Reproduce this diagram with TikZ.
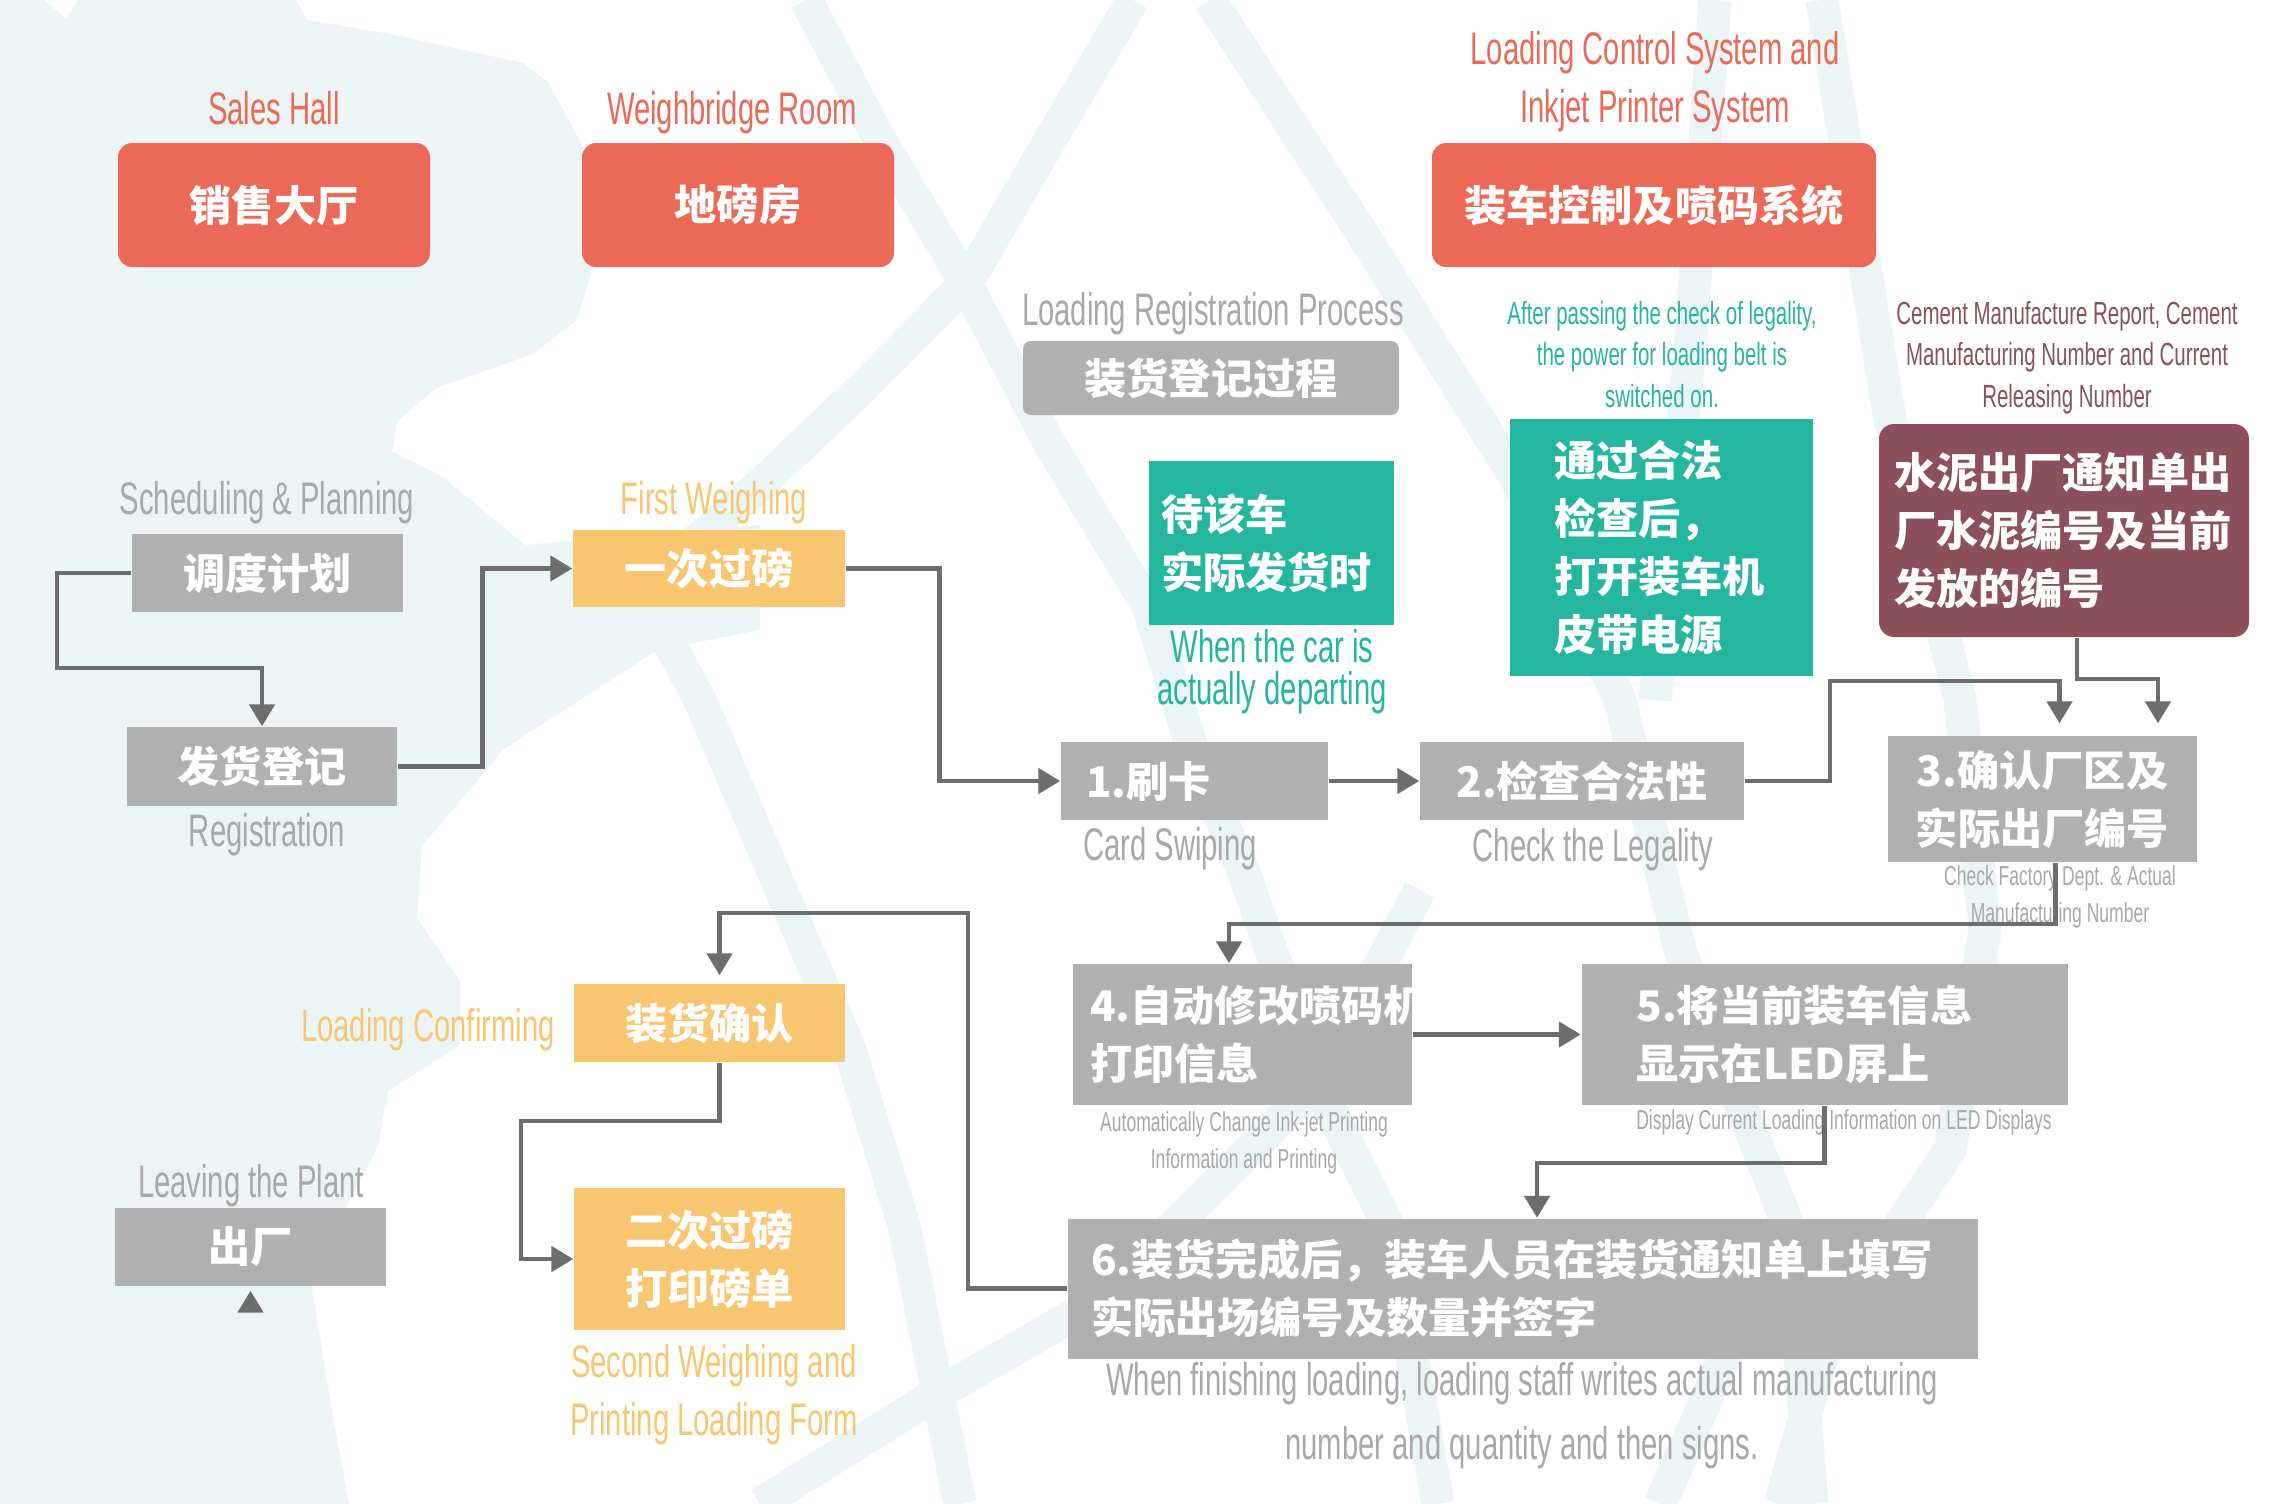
\documentclass[tikz,border=0pt]{standalone}
\usepackage{fontspec}
\usetikzlibrary{arrows.meta}

\newfontfamily\cjk{Noto Sans CJK SC}
\newfontfamily\enfont[FakeStretch=0.64]{Liberation Sans}

\definecolor{hallred}{HTML}{EB6A57}
\definecolor{stepgray}{HTML}{B0B0B0}
\definecolor{labelgray}{HTML}{A8A8A8}
\definecolor{weighyellow}{HTML}{F8C671}
\definecolor{checkteal}{HTML}{25B6A0}
\definecolor{reportred}{HTML}{8B505B}
\definecolor{linegray}{HTML}{6D6D6D}
\definecolor{mapblue}{HTML}{EBF5F6}

\newcommand\cnfont{\cjk\bfseries\fontsize{12}{16.5}\selectfont}
\newcommand\lblfont{\enfont\fontsize{13}{16.5}\selectfont}
\newcommand\notefnt{\enfont\fontsize{9.1}{11.7}\selectfont}
\newcommand\tinyfnt{\enfont\fontsize{7.8}{10.4}\selectfont}

\begin{document}
\begin{tikzpicture}[
    flow/.style={draw=linegray, line width=1.4pt, -{Triangle[length=0.22cm, width=0.25cm]}},
    hall/.style={fill=hallred, text=white, rounded corners=0.14cm, minimum height=1.24cm, font=\cnfont},
    stepbox/.style={fill=stepgray, text=white, font=\cnfont, align=center},
    leftstep/.style={fill=stepgray, text=white, font=\cnfont, align=left},
    weighbox/.style={fill=weighyellow, text=white, font=\cnfont, align=center},
    tealbox/.style={fill=checkteal, text=white, font=\cnfont, align=left},
    reportbox/.style={fill=reportred, text=white, font=\cnfont, align=left, rounded corners=0.15cm},
    lbl/.style={font=\lblfont, inner sep=0pt, anchor=base, align=center},
    note/.style={font=\notefnt, inner sep=0pt, anchor=base, align=center},
    tinynote/.style={font=\tinyfnt, text=labelgray, inner sep=0pt, anchor=base, align=center},
    road/.style={draw=mapblue, line width=0.33cm, line join=round}
]
    \useasboundingbox (0,0) rectangle (22.85,-15.04);
    \fill[white] (0,0) rectangle (22.85,-15.04);

    % Background map
    \begin{scope}
        \clip (0,0) rectangle (22.85,-15.04);
        \fill[mapblue] (0,0) -- (0.44,0) -- (0.66,-0.19) -- (0.78,0) -- (2.96,0) -- (3.07,-0.20)
            -- (3.90,-0.34) -- (5.23,-0.63) -- (5.48,-0.82) -- (5.82,-1.45) -- (5.92,-2.70)
            -- (5.77,-3.20) -- (5.33,-3.54) -- (4.36,-3.88) -- (3.97,-4.22) -- (3.92,-4.52)
            -- (4.40,-4.75) -- (5.25,-5.45) -- (7.60,-5.25) -- (7.60,-6.30) -- (6.57,-6.50)
            -- (5.04,-7.49) -- (4.22,-8.46) -- (4.17,-9.18) -- (4.60,-9.81) -- (4.60,-10.45)
            -- (3.88,-10.91) -- (3.78,-11.46) -- (3.10,-12.77) -- (3.34,-14.23) -- (3.49,-15.04)
            -- (0,-15.04) -- cycle;
        \draw[road] (8.06,0) -- (8.80,-1.40) -- (9.64,-2.80) -- (10.51,-4.46) -- (11.48,-6.06)
            -- (11.96,-7.60) -- (12.45,-8.75) -- (13.17,-10.83) -- (13.90,-12.29) -- (14.38,-15.04);
        \draw[road] (11.33,0) -- (10.50,-1.40) -- (9.68,-2.81) -- (8.60,-3.90) -- (7.60,-4.85) -- (6.40,-5.90);
        \draw[road] (12.10,0) -- (13.60,-2.30) -- (15.20,-4.85) -- (16.20,-7.00) -- (16.80,-9.50)
            -- (17.90,-12.30) -- (18.12,-15.04);
        \draw[road] (17.15,0) -- (16.90,-3.50) -- (16.55,-7.00);
        \draw[road] (18.22,0) -- (18.90,-4.20) -- (19.60,-7.00) -- (19.85,-9.30) -- (19.50,-11.50)
            -- (18.30,-13.30) -- (17.80,-15.04);
        \draw[road] (6.40,-5.90) -- (7.00,-7.00) -- (7.60,-8.41) -- (8.50,-10.50) -- (9.05,-12.29) -- (9.60,-15.04);
        \draw[road] (14.20,-8.90) -- (13.17,-10.83) -- (11.00,-13.00) -- (9.30,-13.98) -- (7.60,-15.04);
        \draw[road] (16.60,-15.04) -- (17.50,-13.00) -- (17.90,-12.30);
    \end{scope}

    % Places
    \node[hall, minimum width=3.12cm] (sales) at (2.74,-2.05) {销售大厅};
    \node[hall, minimum width=3.12cm] (weigh) at (7.38,-2.05) {地磅房};
    \node[hall, minimum width=4.44cm] (loadsys) at (16.54,-2.05) {装车控制及喷码系统};
    \node[lbl, text=hallred] (salestxt) at (2.74,-1.24) {Sales Hall};
    \node[lbl, text=hallred] (weightxt) at (7.32,-1.24) {Weighbridge Room};
    \node[lbl, text=hallred] (loadsystxt) at (16.55,-1.22) {Loading Control System and\\Inkjet Printer System};

    % Registration
    \node[stepbox, rounded corners=0.08cm, minimum width=3.76cm, minimum height=0.74cm] (regproc) at (12.11,-3.78) {装货登记过程};
    \node[lbl, text=labelgray] (regproctxt) at (12.13,-3.25) {Loading Registration Process};
    \node[stepbox, minimum width=2.71cm, minimum height=0.78cm] (sched) at (2.675,-5.73) {调度计划};
    \node[lbl, text=labelgray] (schedtxt) at (2.67,-5.14) {Scheduling \& Planning};
    \node[stepbox, minimum width=2.70cm, minimum height=0.79cm] (reg) at (2.62,-7.665) {发货登记};
    \node[lbl, text=labelgray] (regtxt) at (2.67,-8.46) {Registration};
    \node[weighbox, minimum width=2.72cm, minimum height=0.77cm] (first) at (7.09,-5.685) {一次过磅};
    \node[lbl, text=weighyellow] (firsttxt) at (7.14,-5.14) {First Weighing};

    % Notes above the loading line
    \node[tealbox, text width=2.21cm, inner xsep=0.12cm, minimum height=1.64cm] (waitcar) at (12.715,-5.43) {待该车\\实际发货时};
    \node[lbl, text=checkteal, font=\enfont\fontsize{13}{11.7}\selectfont] (waitcartxt) at (12.72,-7.04) {When the car is\\actually departing};
    \node[tealbox, text width=2.15cm, inner xsep=0.44cm, minimum height=2.57cm] (legalon) at (16.615,-5.475) {通过合法\\检查后，\\打开装车机\\皮带电源};
    \node[note, text=checkteal] (legalontxt) at (16.62,-4.07) {After passing the check of legality,\\the power for loading belt is\\switched on.};
    \node[reportbox, text width=3.40cm, inner xsep=0.15cm, minimum height=2.13cm] (report) at (20.64,-5.305) {水泥出厂通知单出\\厂水泥编号及当前\\发放的编号};
    \node[note, text=reportred] (reporttxt) at (20.67,-4.07) {Cement Manufacture Report, Cement\\Manufacturing Number and Current\\Releasing Number};

    % Steps
    \node[leftstep, text width=2.17cm, inner xsep=0.25cm, minimum height=0.78cm] (card) at (11.945,-7.81) {1.刷卡};
    \node[lbl, text=labelgray] (cardtxt) at (11.70,-8.60) {Card Swiping};
    \node[stepbox, minimum width=3.24cm, minimum height=0.78cm] (legal) at (15.82,-7.81) {2.检查合法性};
    \node[lbl, text=labelgray] (legaltxt) at (15.93,-8.61) {Check the Legality};
    \node[stepbox, minimum width=3.09cm, minimum height=1.26cm] (confirm) at (20.425,-7.99) {3.确认厂区及\\实际出厂编号};
    \node[tinynote] (confirmtxt) at (20.60,-9.22) {Check Factory Dept. \& Actual\\Manufacturing Number};
    \node[leftstep, text width=3.05cm, inner xsep=0.17cm, minimum height=1.41cm] (autoprint) at (12.425,-10.345) {4.自动修改喷码机\\打印信息};
    \node[tinynote] (autoprinttxt) at (12.44,-11.68) {Automatically Change Ink-jet Printing\\Information and Printing};
    \node[leftstep, text width=3.76cm, inner xsep=0.55cm, minimum height=1.41cm] (ledshow) at (18.245,-10.345) {5.将当前装车信息\\显示在LED屏上};
    \node[tinynote] (ledshowtxt) at (18.44,-11.29) {Display Current Loading Information on LED Displays};
    \node[leftstep, text width=8.64cm, inner xsep=0.23cm, minimum height=1.40cm] (finish) at (15.23,-12.885) {6.装货完成后，装车人员在装货通知单上填写\\实际出场编号及数量并签字};
    \node[lbl, text=labelgray, font=\enfont\fontsize{13}{18}\selectfont] (finishtxt) at (15.22,-14.59) {When finishing loading, loading staff writes actual manufacturing\\number and quantity and then signs.};

    % Loading and leaving
    \node[weighbox, minimum width=2.71cm, minimum height=0.78cm] (loadconf) at (7.095,-10.23) {装货确认};
    \node[lbl, text=weighyellow] (loadconftxt) at (4.28,-10.41) {Loading Confirming};
    \node[weighbox, minimum width=2.71cm, minimum height=1.42cm] (second) at (7.095,-12.59) {二次过磅\\打印磅单};
    \node[lbl, text=weighyellow] (secondtxt) at (7.14,-14.35) {Second Weighing and\\Printing Loading Form};
    \node[stepbox, minimum width=2.71cm, minimum height=0.78cm] (leave) at (2.505,-12.47) {出厂};
    \node[lbl, text=labelgray] (leavetxt) at (2.51,-11.97) {Leaving the Plant};

    % Bends
    \coordinate (schedbend) at (0.57,-6.68);
    \coordinate (legalbend) at (18.30,-6.81);
    \coordinate (reportbend) at (21.58,-6.79);
    \coordinate (confbend) at (12.29,-9.24);
    \coordinate (ledbend) at (15.37,-11.63);
    \coordinate (finbend) at (9.68,-9.13);
    \coordinate (loadbend) at (5.21,-11.21);
    \coordinate (leavetail) at (2.505,-13.12);

    % Connections
    \draw[flow] (sched.west) -| (schedbend) -| (reg.north);
    \draw[flow] (reg.east) -- ++(0.85,0) |- (first.west);
    \draw[flow] (first.east) -- ++(0.94,0) |- (card.west);
    \draw[flow] (card.east) -- (legal.west);
    \draw[flow, shorten >=0.12cm] (legal.east) -| (legalbend) -| ([xshift=0.17cm]confirm.north);
    \draw[flow, shorten >=0.12cm] ([xshift=0.13cm]report.south) |- (reportbend) -- (reportbend |- confirm.north);
    \draw[flow] ([xshift=0.13cm]confirm.south) |- (confbend) -- (confbend |- autoprint.north);
    \draw[flow] (autoprint.east) -- (ledshow.west);
    \draw[flow] (ledshow.south) |- (ledbend) -- (ledbend |- finish.north);
    \draw[flow, shorten >=0.08cm] (finish.west) -| (finbend) -| ([xshift=0.1cm]loadconf.north);
    \draw[flow] ([xshift=0.1cm]loadconf.south) |- (loadbend) |- (second.west);
    \draw[flow, shorten >=0.04cm] (leavetail) -- (leave.south);
\end{tikzpicture}
\end{document}
